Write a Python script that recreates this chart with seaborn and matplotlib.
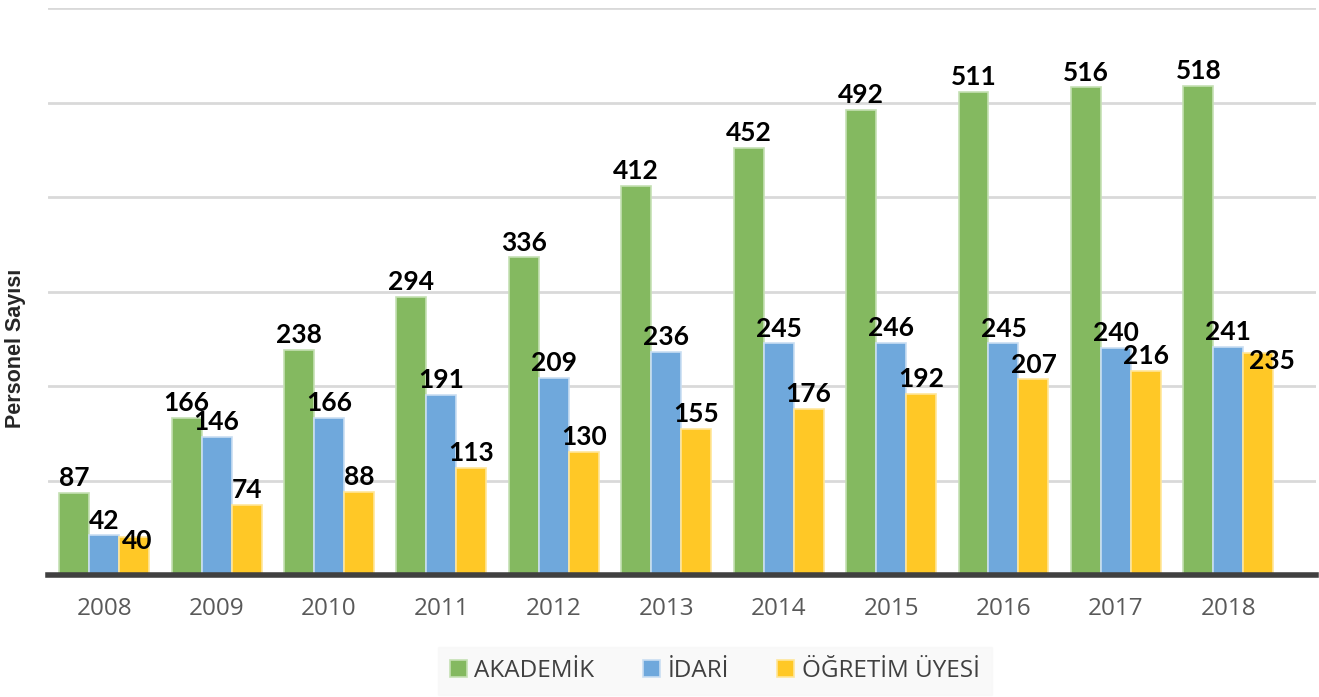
import matplotlib
matplotlib.use('Agg')
import matplotlib.pyplot as plt
import seaborn as sns
import pandas as pd
from matplotlib.patches import Patch

years = ['2008', '2009', '2010', '2011', '2012', '2013', '2014', '2015', '2016', '2017', '2018']
akademik = [87, 166, 238, 294, 336, 412, 452, 492, 511, 516, 518]
idari = [42, 146, 166, 191, 209, 236, 245, 246, 245, 240, 241]
ogretim = [40, 74, 88, 113, 130, 155, 176, 192, 207, 216, 235]
series = ['AKADEMİK', 'İDARİ', 'ÖĞRETİM ÜYESİ']
colors = ['#84B960', '#6FA8DC', '#FFC826']
edges = ['#C5E0B4', '#C9DEF2', '#FFE699']

rows = []
for name, vals in zip(series, [akademik, idari, ogretim]):
    for y, v in zip(years, vals):
        rows.append({'Yıl': y, 'Seri': name, 'Değer': v})
df = pd.DataFrame(rows)

sns.set_style('white')
plt.rcParams['font.family'] = ['Open Sans', 'DejaVu Sans']

fig = plt.figure(figsize=(13.19, 6.97), dpi=100)
ax = fig.add_axes([0.0364, 0.175, 0.9613, 0.8135])

sns.barplot(data=df, x='Yıl', y='Değer', hue='Seri', hue_order=series,
            palette=colors, saturation=1, width=0.8, ax=ax, legend=False)

for cont, ec in zip(ax.containers, edges):
    for bar in cont:
        bar.set_edgecolor(ec)
        bar.set_linewidth(1.2)
    labels = ax.bar_label(cont, fontsize=19, fontweight='bold', color='black', padding=2,
                          family=['Lato', 'DejaVu Sans'])

# yellow labels that would collide get pushed down onto the bar top, like the original
first, last = labels[0], labels[-1]
first.set_va('center')
first.xyann = (2, -3)
last.set_va('center')
last.xyann = (10, -6)

ax.set_ylim(0, 600)
ax.set_xlim(-0.5, 10.78)
ax.set_yticks(range(0, 601, 100))
ax.set_yticklabels([])
ax.yaxis.grid(True, color='#D9D9D9', linewidth=2)
ax.set_axisbelow(True)
for s in ['top', 'right', 'left']:
    ax.spines[s].set_visible(False)
ax.spines['bottom'].set_color('#404040')
ax.spines['bottom'].set_linewidth(4)
ax.tick_params(axis='x', length=0, labelsize=17.5, labelcolor='#595959', pad=16)
ax.tick_params(axis='y', length=0)
ax.set_xlabel('')
ax.set_ylabel('Personel Sayısı', fontsize=15.5, fontweight='bold',
              family=['Liberation Sans', 'DejaVu Sans'])
ax.yaxis.set_label_coords(-0.017, 0.40)

handles = [Patch(facecolor=c, edgecolor=e, linewidth=1.2) for c, e in zip(colors, edges)]
leg = fig.legend(handles, series, loc='center', bbox_to_anchor=(0.542, 0.037), ncol=3,
                 fontsize=17.5, frameon=True, fancybox=False, handlelength=0.7, handleheight=0.7,
                 handletextpad=0.3, columnspacing=2.0, borderpad=0.5)
leg.get_frame().set_facecolor('#F8F8F8')
leg.get_frame().set_edgecolor('#F8F8F8')
for t in leg.get_texts():
    t.set_color('#404040')

fig.savefig('out.png', dpi=100)
